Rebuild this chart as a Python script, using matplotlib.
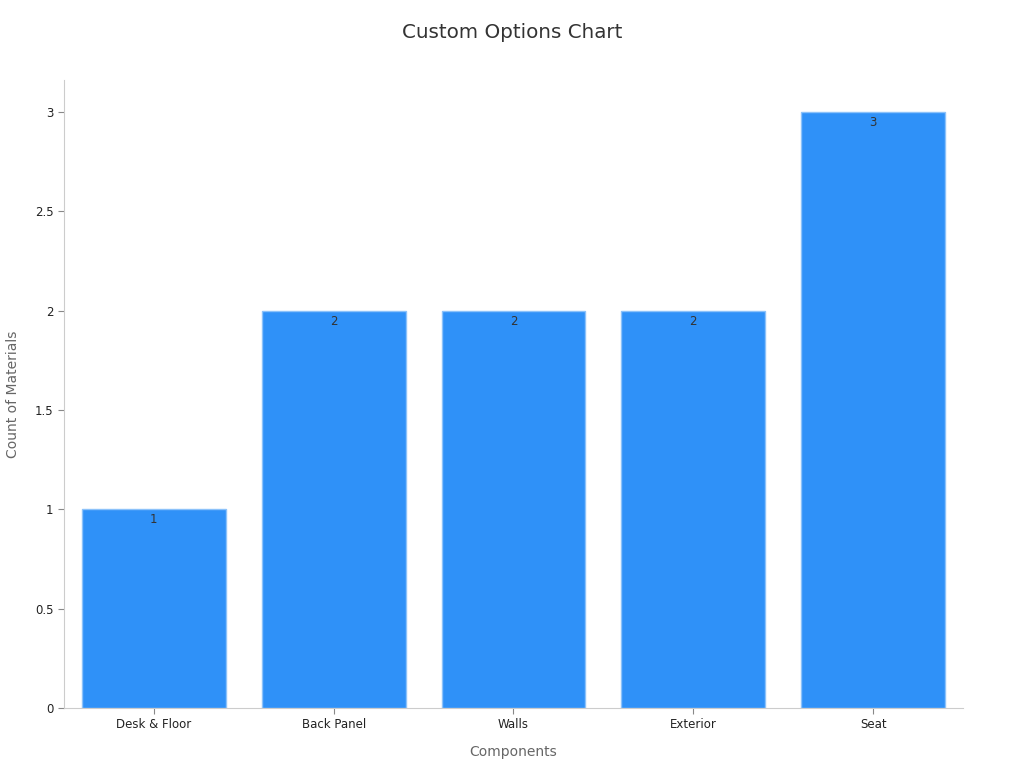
import matplotlib
matplotlib.use("Agg")
import matplotlib.pyplot as plt

categories = ["Desk & Floor", "Back Panel", "Walls", "Exterior", "Seat"]
values = [1, 2, 2, 2, 3]
yticks = [0, 0.5, 1, 1.5, 2, 2.5, 3]
ytick_labels = ["0", "0.5", "1", "1.5", "2", "2.5", "3"]

plt.rcParams['font.family'] = ['DejaVu Sans']
fig = plt.figure(figsize=(10.24, 7.68), dpi=100)
ax = fig.add_axes([0.0625, 0.0781, 0.8779, 0.8177])

x = list(range(len(categories)))
bars = ax.bar(x, values, width=0.8, color="#2F91F8", edgecolor="#8CC2FA", linewidth=1)
for xi, v in zip(x, values):
    ax.text(xi, v - 0.02, str(v), ha="center", va="top", fontsize=8.5, color="#333333")

ax.set_xlim(-0.5, 4.5)
ax.set_ylim(0, 3.16)
ax.set_xticks(x)
ax.set_xticklabels(categories, fontsize=8.5, color="#222222")
ax.set_yticks(yticks)
ax.set_yticklabels(ytick_labels, fontsize=8.5, color="#222222")
ax.tick_params(axis="both", colors="#888888", labelcolor="#222222", length=4)
for s in ["top", "right"]:
    ax.spines[s].set_visible(False)
for s in ["left", "bottom"]:
    ax.spines[s].set_color("#cccccc")

ax.set_xlabel("Components", fontsize=10, color="#666666", labelpad=10)
ax.set_ylabel("Count of Materials", fontsize=10, color="#666666")
ax.yaxis.set_label_coords(-0.049, 0.5)
fig.suptitle("Custom Options Chart", fontsize=14.3, color="#333333", y=0.97)

fig.savefig("out.png", dpi=100)
